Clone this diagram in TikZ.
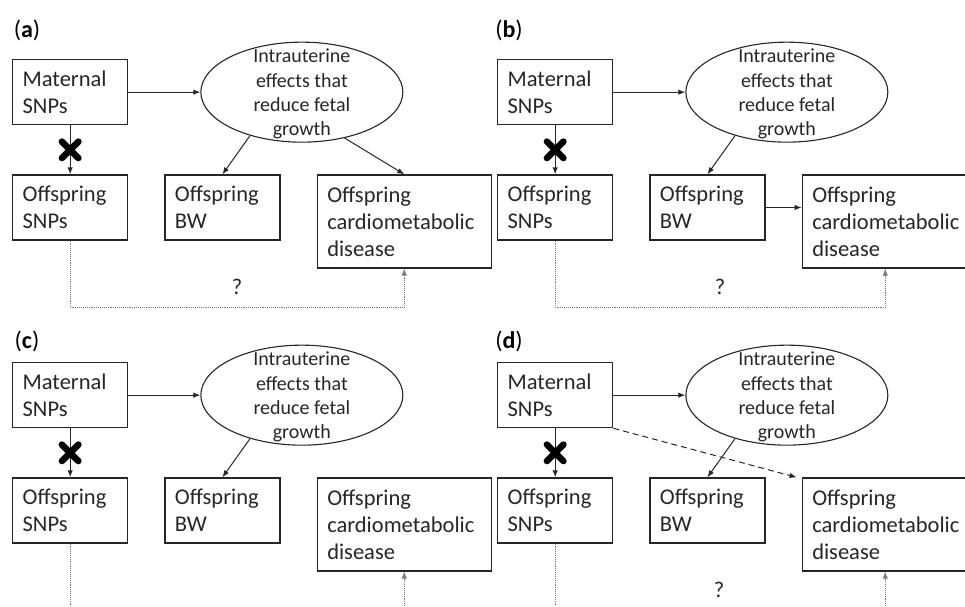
\documentclass[tikz,border=0pt]{standalone}
\usepackage{fontspec}
\setmainfont{Carlito}
\usetikzlibrary{shapes,arrows.meta,positioning}

\definecolor{inkgray}{HTML}{262626}
\definecolor{dotgray}{HTML}{7A7A7A}

\begin{document}
\begin{tikzpicture}[x=1pt,y=-1pt,color=inkgray,>={Latex[length=7pt,width=5.5pt]},
    box/.style={draw,line width=1.3pt,align=left,text width=95pt,inner xsep=10pt,inner ysep=4pt,
                minimum height=65pt,font=\fontsize{22.5}{27}\selectfont},
    effect/.style={ellipse,draw,line width=1.1pt,minimum width=202pt,minimum height=100pt,inner sep=0pt},
    efftext/.style={align=center,inner sep=0pt,font=\fontsize{20}{24.3}\selectfont},
    arr/.style={->,line width=1pt},
    xmark/.style={cross out,draw=black,line width=6.5pt,line cap=round,minimum size=10pt,inner sep=0pt},
    query/.style={->,densely dotted,draw=dotgray,line width=0.9pt},
    qmark/.style={font=\fontsize{22.5}{27}\selectfont},
    panel/.style={text=black,font=\fontsize{24}{28}\selectfont}]

  \useasboundingbox (0,0) rectangle (965,606);

  % the four panels share the same nodes
  \foreach \p/\x/\y/\w in {a/0/0/154, b/485/0/146, c/0/303/154, d/485/303/146}{
    \begin{scope}[shift={(\x,\y)},name prefix=\p-]
      \node[box,anchor=north west] (mat) at (12,59) {Maternal\\SNPs};
      \node[effect,right=72pt of mat] (eff) {};
      \node[efftext] (efft) at ([yshift=-2pt]eff.center) {Intrauterine\\effects that\\reduce fetal\\growth};
      \node[box,below=49pt of mat] (snp) {Offspring\\SNPs};
      \node[box,right=36pt of snp] (bw) {Offspring\\BW};
      \node[box,text width=\w pt,minimum height=93pt,right=36pt of bw.north east,anchor=north west] (card)
            {Offspring\\cardiometabolic\\disease};

      \draw[arr] (mat) -- (eff);
      \draw[arr] (mat) -- node[xmark] (cut) {} (snp);
      \draw[arr] (eff.220) -- (bw.north);
    \end{scope}
  }

  \node[panel] (la) at (27,30) {(\textbf{a})};
  \node[panel] (lb) at (509,30) {(\textbf{b})};
  \node[panel] (lc) at (27,341) {(\textbf{c})};
  \node[panel] (ld) at (509,341) {(\textbf{d})};

  % (a)
  \draw[arr] (a-eff.313) -- (a-card.north);
  \draw[query] (a-snp.south) -- ++(0,67) -| node[pos=0.25,above=9pt,qmark] (a-q) {?} (a-card.south);

  % (b)
  \draw[arr] (b-bw.east) -- (b-bw.east -| b-card.west);
  \draw[query] (b-snp.south) -- ++(0,67) -| node[pos=0.25,above=9pt,qmark] (b-q) {?} (b-card.south);

  % (c) and (d) run off the bottom edge
  \coordinate (bottom) at (0,606);
  \foreach \p in {c,d}{
    \draw[query,-] (\p-snp.south) -- (\p-snp.south |- bottom);
    \draw[query] (\p-card.south |- bottom) -- (\p-card.south);
  }
  \draw[arr,dash pattern=on 6pt off 4pt] (d-mat.south east) -- ([xshift=-5pt]d-card.north west);
  \node[qmark] (d-q) at (719,590) {?};

\end{tikzpicture}
\end{document}
